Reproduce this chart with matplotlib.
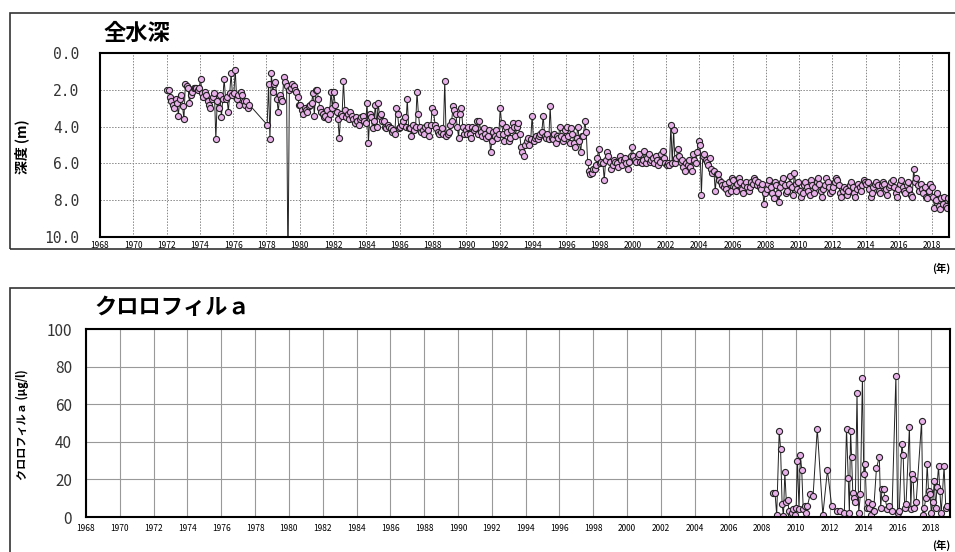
import numpy as np
import matplotlib
matplotlib.use("Agg")
import matplotlib.pyplot as plt
from matplotlib.patches import Rectangle

plt.rcParams["font.family"] = ["Noto Sans CJK JP", "DejaVu Sans"]

# --- data: total water depth (m), monthly values ---
depth_1972_1976 = [
    2.0, 2.0, 2.4, 2.6, 2.8, 3.0, 2.5, 2.7, 3.4, 2.5, 2.3, 2.9,
    3.6, 1.7, 1.8, 1.9, 2.7, 2.3, 2.1, 1.9, 1.9, 1.9, 2.0, 1.9,
    1.4, 2.2, 2.4, 2.1, 2.3, 2.6, 2.8, 3.0, 2.5, 2.4, 2.2, 4.7,
    2.6, 3.0, 2.3, 3.5, 2.5, 1.4, 2.5, 2.4, 3.2, 2.2, 1.1, 2.3,
    2.2, 0.9, 2.5, 2.3, 2.8, 2.1, 2.3, 2.6, 2.8, 2.6, 3.0, 2.8,
]
depth_1978_1989 = [
    3.9, 1.7, 4.7, 1.1, 2.1, 1.7, 1.6, 2.5, 3.2, 2.3, 2.5, 2.6,
    1.3, 1.6, 1.8, 12.0, 2.0, 1.9, 1.7, 1.8, 2.0, 2.1, 2.4, 2.8,
    2.8, 3.1, 3.3, 3.0, 3.1, 3.2, 2.9, 2.8, 2.7, 2.2, 3.4, 2.0,
    2.0, 2.5, 3.0, 3.2, 3.3, 3.5, 3.4, 3.1, 3.6, 3.3, 2.1, 3.0,
    2.1, 2.8, 3.2, 3.6, 4.6, 3.3, 3.4, 1.5, 3.1, 3.5, 3.3, 3.6,
    3.2, 3.4, 3.6, 3.8, 3.5, 3.7, 3.9, 3.6, 3.5, 3.4, 3.7, 3.8,
    2.7, 4.9, 3.3, 3.5, 4.1, 3.7, 2.8, 4.0, 2.7, 3.4, 3.3, 3.7,
    3.7, 4.0, 4.1, 3.9, 4.0, 4.1, 4.3, 4.2, 4.4, 3.0, 3.3, 4.1,
    4.0, 3.9, 3.7, 3.5, 4.0, 2.5, 4.1, 4.1, 4.5, 3.9, 4.2, 4.0,
    2.1, 3.3, 4.0, 4.3, 4.2, 4.4, 4.0, 3.9, 4.2, 4.5, 3.9, 3.0,
    3.2, 3.9, 4.1, 4.3, 4.4, 4.3, 4.1, 4.4, 1.5, 4.5, 4.4, 4.3,
    3.9, 3.7, 2.9, 3.1, 3.3, 4.0, 4.6, 3.3, 3.0, 4.0, 4.4, 4.2,
]
depth_1990_1999 = [
    4.4, 4.0, 4.4, 4.6, 4.0, 4.2, 4.1, 3.7, 4.4, 3.7, 4.3, 4.5,
    4.1, 4.4, 4.6, 4.5, 4.2, 5.4, 4.8, 4.3, 4.5, 4.2, 4.6, 4.4,
    3.0, 3.8, 4.4, 4.8, 4.0, 4.3, 4.8, 4.6, 4.2, 3.8, 4.0, 4.5,
    4.0, 3.8, 4.4, 5.1, 5.4, 5.6, 5.0, 4.8, 4.6, 5.0, 4.7, 3.4,
    4.8, 4.6, 4.5, 4.7, 4.5, 4.4, 4.3, 3.4, 4.5, 4.6, 4.4, 4.7,
    2.9, 4.6, 4.7, 4.4, 4.9, 4.5, 4.6, 4.0, 4.5, 4.8, 4.6, 4.2,
    4.0, 4.5, 4.9, 4.1, 4.4, 4.9, 5.1, 4.6, 4.0, 4.8, 5.4, 4.5,
    4.5, 3.7, 4.3, 5.9, 6.4, 6.6, 6.5, 6.3, 6.3, 6.1, 5.7, 5.2,
    6.0, 5.9, 6.0, 6.9, 5.8, 5.4, 5.6, 5.9, 6.3, 6.1, 5.8, 5.9,
    6.0, 6.2, 5.6, 5.8, 6.1, 5.8, 5.7, 6.0, 6.3, 5.9, 5.6, 5.1,
]
depth_2000_2009 = [
    5.6, 5.8, 5.9, 5.6, 5.5, 5.9, 6.0, 5.8, 5.3, 6.0, 5.7, 5.5,
    5.9, 5.8, 5.7, 6.0, 5.6, 5.8, 6.1, 5.9, 5.5, 5.3, 5.7, 6.0,
    6.1, 6.0, 6.1, 3.9, 6.0, 4.2, 6.0, 5.7, 5.2, 5.6, 5.9, 5.8,
    6.2, 6.4, 6.0, 6.1, 5.8, 6.2, 6.4, 5.5, 5.8, 6.0, 5.4, 4.8,
    5.0, 7.7, 5.6, 5.5, 5.8, 5.9, 6.1, 5.7, 6.3, 6.5, 6.4, 7.5,
    6.6, 6.6, 6.9, 7.0, 7.2, 7.3, 7.1, 7.4, 7.6, 7.0, 7.5, 6.8,
    6.9, 7.3, 7.5, 7.1, 6.8, 7.0, 7.4, 7.6, 7.2, 7.0, 7.3, 7.5,
    7.3, 7.0, 7.1, 6.8, 6.9, 7.2, 7.0, 7.3, 7.4, 7.1, 8.2, 7.6,
    7.4, 7.1, 6.9, 7.3, 7.6, 7.9, 7.0, 7.2, 7.6, 8.1, 7.3, 7.0,
    6.8, 7.2, 7.6, 7.5, 7.1, 6.7, 7.3, 7.7, 6.5, 7.1, 7.4, 7.0,
]
depth_2010_2018 = [
    7.5, 7.8, 7.6, 7.2, 7.0, 7.3, 7.5, 7.7, 6.9, 7.2, 7.6, 7.3,
    7.0, 6.8, 7.1, 7.5, 7.8, 7.4, 7.2, 6.8, 7.0, 7.3, 7.6, 7.5,
    7.3, 7.0, 6.8, 6.9, 7.2, 7.6, 7.8, 7.5, 7.3, 7.4, 7.7, 7.5,
    7.2, 7.0, 7.3, 7.6, 7.8, 7.4, 7.1, 7.3, 7.5, 7.2, 6.9, 7.0,
    7.1, 7.0, 7.4, 7.8, 7.6, 7.3, 7.1, 7.0, 7.2, 7.5, 7.6, 7.2,
    7.0, 7.1, 7.4, 7.7, 7.3, 7.2, 7.0, 6.9, 7.3, 7.6, 7.8, 7.4,
    7.1, 6.9, 7.3, 7.5, 7.6, 7.2, 7.0, 7.4, 7.7, 7.8, 6.3, 7.0,
    6.8, 7.2, 7.5, 7.1, 7.4, 7.6, 7.3, 7.8, 7.9, 7.5, 7.1, 7.3,
    7.8, 8.4, 8.0, 7.6, 8.3, 8.5, 7.9, 8.2, 7.8, 8.3, 8.4, 7.9,
]

# --- data: chlorophyll a (ug/l), sampling dates as decimal years ---
chl_dates = [
    2008.66, 2008.75, 2008.85, 2009.00, 2009.08, 2009.17, 2009.25, 2009.33,
    2009.42, 2009.50, 2009.58, 2009.67, 2009.75, 2009.83, 2009.92, 2010.00,
    2010.08, 2010.17, 2010.25, 2010.33, 2010.42, 2010.50, 2010.58, 2010.67,
    2010.83, 2011.00, 2011.25, 2011.58, 2011.85, 2012.10, 2012.40, 2012.60,
    2012.85, 2012.98, 2013.08, 2013.15, 2013.22, 2013.28, 2013.35, 2013.42,
    2013.50, 2013.60, 2013.70, 2013.80, 2013.92, 2014.00, 2014.08, 2014.17,
    2014.25, 2014.33, 2014.42, 2014.50, 2014.58, 2014.75, 2014.92, 2015.00,
    2015.08, 2015.17, 2015.25, 2015.40, 2015.50, 2015.67, 2015.90, 2016.00,
    2016.10, 2016.25, 2016.33, 2016.42, 2016.50, 2016.70, 2016.78, 2016.85,
    2016.92, 2017.00, 2017.10, 2017.42, 2017.50, 2017.58, 2017.67, 2017.75,
    2017.83, 2017.92, 2018.00, 2018.08, 2018.17, 2018.25, 2018.33, 2018.42,
    2018.50, 2018.58, 2018.75, 2018.85, 2018.95,
]
chl_values = [
    13, 13, 1, 46, 36, 7, 0.5, 24,
    8, 9, 3, 1, 2, 4, 1, 5,
    30, 4, 33, 25, 4, 6, 2, 6,
    12, 11, 47, 1, 25, 6, 3, 3,
    2, 47, 21, 2, 46, 32, 13, 10,
    8, 66, 2, 12, 74, 23, 28, 5,
    8, 5, 1, 7, 3, 26, 32, 5,
    15, 15, 10, 4, 6, 3, 75, 2,
    3, 39, 33, 5, 7, 48, 4, 23,
    20, 5, 8, 51, 1, 5, 10, 28,
    14, 12, 2, 8, 19, 5, 16, 27,
    14, 2, 27, 5, 6,
]

year_ticks = list(range(1968, 2019, 2))


def monthly(start_year, values):
    n = len(values)
    return start_year + (np.arange(n) + 0.5) / 12.0


depth_x = np.concatenate([
    monthly(1972, depth_1972_1976),
    monthly(1978, depth_1978_1989),
    monthly(1990, depth_1990_1999),
    monthly(2000, depth_2000_2009),
    monthly(2010, depth_2010_2018),
])
depth_y = np.concatenate([
    depth_1972_1976, depth_1978_1989, depth_1990_1999,
    depth_2000_2009, depth_2010_2018,
])

W, H = 955, 552
fig = plt.figure(figsize=(W / 100, H / 100), dpi=100)


def fx(px):
    return px / W


def fy(py):
    return 1 - py / H


# panel frames
for top, bottom in [(13, 249), (288, 560)]:
    fig.patches.append(Rectangle((fx(10), fy(bottom)), fx(960 - 10), (bottom - top) / H,
                                 transform=fig.transFigure, fill=False,
                                 edgecolor="#333333", linewidth=1.2))

marker_kw = dict(marker="o", markersize=4.4, markerfacecolor="#e8b0e8",
                 markeredgecolor="#222222", markeredgewidth=0.8,
                 color="#222222", linewidth=0.7)

# --- top panel: water depth ---
ax1 = fig.add_axes([fx(100), fy(237), fx(849), 184 / H])
ax1.plot(depth_x, depth_y, **marker_kw)
ax1.set_xlim(1968, 2019)
ax1.set_ylim(10, 0)
ax1.set_yticks(np.arange(0, 10.1, 2))
ax1.set_yticklabels([f"{v:.1f}" for v in np.arange(0, 10.1, 2)],
                    fontsize=10.5, fontfamily="DejaVu Sans Mono", color="#333333")
ax1.set_xticks(year_ticks)
ax1.set_xticklabels([str(y) for y in year_ticks], fontsize=6)
ax1.grid(True, color="#888888", linestyle=(0, (1.5, 1.5)), linewidth=0.7)
ax1.tick_params(axis="y", length=0, pad=15)
ax1.tick_params(axis="x", length=0, pad=3)
for s in ax1.spines.values():
    s.set_linewidth(1.5)
fig.text(fx(103), fy(33), "全水深", fontsize=16, fontweight="bold", va="center")
fig.text(fx(22), fy(147), "深度 (m)", fontsize=10, fontweight="bold",
         rotation=90, va="center", ha="center")
fig.text(fx(950), fy(268), "(年)", fontsize=7.5, fontweight="bold",
         ha="right", va="center")

# --- bottom panel: chlorophyll a ---
ax2 = fig.add_axes([fx(86), fy(517), fx(864), 188 / H])
ax2.plot(chl_dates, chl_values, **marker_kw)
ax2.set_xlim(1968, 2019.1)
ax2.set_ylim(0, 100)
ax2.set_yticks(range(0, 101, 20))
ax2.set_yticklabels([str(v) for v in range(0, 101, 20)], fontsize=11,
                    color="#333333")
ax2.set_xticks(year_ticks)
ax2.set_xticklabels([str(y) for y in year_ticks], fontsize=6)
ax2.grid(True, color="#999999", linestyle="-", linewidth=0.8)
ax2.tick_params(axis="y", length=0, pad=10)
ax2.tick_params(axis="x", length=0, pad=5)
for s in ax2.spines.values():
    s.set_linewidth(1.5)
fig.text(fx(94), fy(307), "クロロフィルａ", fontsize=16, fontweight="bold",
         va="center")
fig.text(fx(22), fy(425), "クロロフィルａ (μg/l)", fontsize=8, fontweight="bold",
         rotation=90, va="center", ha="center")
fig.text(fx(950), fy(545), "(年)", fontsize=7.5, fontweight="bold",
         ha="right", va="center")

fig.savefig("out.png", dpi=100)
